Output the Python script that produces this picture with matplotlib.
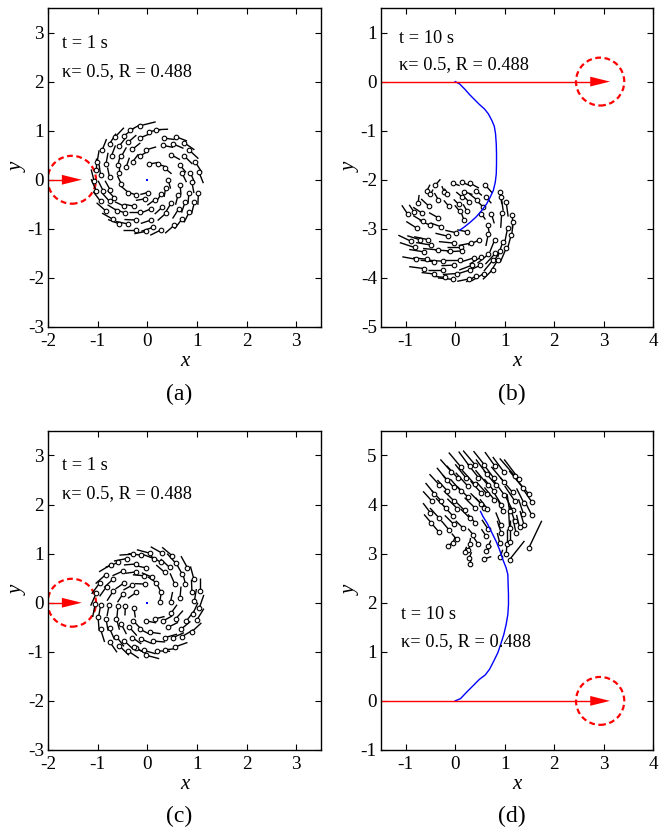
import numpy as np
import matplotlib.pyplot as plt
from matplotlib.collections import LineCollection
from matplotlib.patches import Circle

plt.rcParams['font.family'] = ['Liberation Serif', 'DejaVu Serif']
plt.rcParams['axes.unicode_minus'] = False

# particle rows: x, y, tail dx, tail dy
particles_a = [
    (-0.15, 1.10, 0.32, 0.08), (0.03, 0.98, 0.24, 0.04), (0.18, 1.02, 0.24, 0.01),
    (0.57, 0.88, 0.23, -0.09), (0.75, 0.75, 0.20, -0.14), (0.85, 0.60, 0.18, -0.17),
    (0.97, 0.36, 0.13, -0.21), (1.04, 0.16, 0.09, -0.23), (1.03, -0.26, -0.01, -0.25),
    (0.95, -0.46, -0.06, -0.24), (0.85, -0.65, -0.11, -0.22), (0.70, -0.80, -0.15, -0.20),
    (0.54, -0.93, -0.18, -0.16), (0.28, -1.02, -0.22, -0.11), (0.11, -0.97, -0.23, -0.08),
    (-0.02, -1.05, -0.24, -0.05), (-0.23, -1.02, -0.25, 0.00), (-0.39, -0.90, -0.24, 0.05),
    (-0.56, -0.90, -0.23, 0.09), (-0.70, -0.80, -0.21, 0.12), (-0.84, -0.63, -0.18, 0.16),
    (-0.94, -0.44, -0.15, 0.20), (-1.03, -0.22, -0.10, 0.23), (-1.07, -0.03, -0.06, 0.24),
    (-1.04, 0.20, 0.00, 0.25), (-1.01, 0.36, 0.04, 0.24), (-0.91, 0.60, 0.09, 0.23),
    (-0.76, 0.73, 0.13, 0.21), (-0.64, 0.88, 0.17, 0.18), (-0.46, 0.90, 0.19, 0.15),
    (-0.34, 1.01, 0.21, 0.12),
    (-0.15, 0.85, 0.21, 0.09), (0.33, 0.85, 0.22, -0.03), (0.52, 0.73, 0.21, -0.09),
    (0.75, 0.48, 0.16, -0.16), (0.87, 0.14, 0.09, -0.21), (0.90, -0.05, 0.04, -0.22),
    (0.84, -0.26, -0.02, -0.23), (0.76, -0.46, -0.07, -0.21), (0.63, -0.60, -0.12, -0.19),
    (0.38, -0.68, -0.17, -0.15), (0.08, -0.82, -0.21, -0.07), (-0.23, -0.82, -0.23, 0.01),
    (-0.44, -0.68, -0.21, 0.08), (-0.61, -0.63, -0.19, 0.12), (-0.76, -0.44, -0.15, 0.17),
    (-0.89, -0.22, -0.10, 0.20), (-0.94, 0.09, -0.03, 0.22), (-0.83, 0.33, 0.04, 0.22),
    (-0.72, 0.49, 0.08, 0.21), (-0.57, 0.68, 0.14, 0.18), (-0.39, 0.76, 0.17, 0.15),
    (-0.02, 0.61, 0.20, 0.06), (0.32, 0.70, 0.20, -0.04), (0.48, 0.51, 0.18, -0.10),
    (0.65, 0.31, 0.13, -0.16), (0.70, 0.14, 0.09, -0.19), (0.66, -0.10, 0.02, -0.20),
    (0.62, -0.31, -0.05, -0.20), (0.48, -0.48, -0.11, -0.18), (0.30, -0.56, -0.15, -0.14),
    (0.08, -0.59, -0.19, -0.08), (-0.15, -0.65, -0.21, 0.00), (-0.26, -0.54, -0.20, 0.04),
    (-0.46, -0.54, -0.19, 0.09), (-0.66, -0.37, -0.14, 0.15), (-0.75, -0.20, -0.10, 0.18),
    (-0.76, 0.05, -0.04, 0.20), (-0.59, 0.31, 0.05, 0.20), (-0.52, 0.48, 0.10, 0.18),
    (-0.30, 0.62, 0.16, 0.13),
    (0.03, 0.32, 0.18, 0.03), (0.21, 0.32, 0.18, -0.06), (0.35, 0.24, 0.14, -0.12),
    (0.42, 0.00, 0.05, -0.18), (0.37, -0.17, -0.03, -0.18), (0.28, -0.29, -0.10, -0.16),
    (0.15, -0.41, -0.15, -0.11), (-0.05, -0.39, -0.18, -0.03), (-0.22, -0.31, -0.18, 0.06),
    (-0.38, -0.26, -0.14, 0.12), (-0.52, -0.09, -0.08, 0.17), (-0.57, 0.14, 0.00, 0.19),
    (-0.42, 0.27, 0.06, 0.18), (-0.29, 0.37, 0.11, 0.15), (-0.15, 0.48, 0.16, 0.10),
    (0.01, -0.26, -0.15, -0.04),
]

particles_c = [
    (0.05, 1.01, -0.26, 0.07), (-0.12, 0.97, -0.26, 0.03), (-0.29, 0.99, -0.27, -0.02),
    (-0.41, 0.90, -0.26, -0.05), (-0.59, 0.82, -0.25, -0.10), (-0.74, 0.77, -0.23, -0.14),
    (-0.84, 0.57, -0.20, -0.18), (-0.96, 0.40, -0.16, -0.22), (-1.03, 0.19, -0.11, -0.25),
    (-1.05, -0.03, -0.05, -0.26), (-0.99, -0.30, 0.02, -0.27), (-0.94, -0.54, 0.08, -0.26),
    (-0.76, -0.79, 0.15, -0.22), (-0.56, -0.88, 0.19, -0.19), (-0.39, -0.98, 0.22, -0.15),
    (-0.23, -0.93, 0.24, -0.12), (-0.02, -1.07, 0.26, -0.07), (0.19, -0.98, 0.27, -0.01),
    (0.35, -0.96, 0.27, 0.03), (0.56, -0.90, 0.25, 0.09), (0.70, -0.69, 0.23, 0.14),
    (0.90, -0.59, 0.19, 0.18), (1.00, -0.35, 0.14, 0.23), (1.05, -0.10, 0.09, 0.26),
    (1.07, 0.24, 0.00, 0.27), (0.94, 0.48, -0.07, 0.26), (0.81, 0.71, -0.13, 0.24),
    (0.58, 0.80, -0.18, 0.20), (0.50, 0.96, -0.20, 0.17), (0.30, 1.01, -0.23, 0.13),
    (0.13, 0.90, -0.23, 0.09), (-0.02, 0.71, -0.24, 0.05), (-0.22, 0.79, -0.25, -0.02),
    (-0.48, 0.65, -0.22, -0.10), (-0.69, 0.48, -0.18, -0.17), (-0.82, 0.33, -0.14, -0.20),
    (-0.94, -0.05, -0.04, -0.24), (-0.77, -0.05, -0.04, -0.22), (-0.83, -0.33, 0.04, -0.24),
    (-0.76, -0.52, 0.10, -0.23), (-0.62, -0.69, 0.15, -0.20), (-0.46, -0.78, 0.18, -0.17),
    (-0.26, -0.91, 0.22, -0.11), (-0.07, -0.97, 0.24, -0.07), (0.11, -0.78, 0.25, -0.02),
    (0.36, -0.71, 0.24, 0.07), (0.52, -0.71, 0.22, 0.10), (0.68, -0.54, 0.19, 0.16),
    (0.79, -0.37, 0.15, 0.20), (0.92, -0.22, 0.10, 0.22), (0.95, 0.04, 0.04, 0.24),
    (0.90, 0.22, -0.01, 0.25), (0.77, 0.38, -0.06, 0.24), (0.70, 0.59, -0.12, 0.22),
    (0.45, 0.72, -0.18, 0.17), (0.28, 0.82, -0.21, 0.13),
    (0.10, 0.52, -0.21, 0.09), (-0.07, 0.55, -0.22, 0.02), (-0.22, 0.63, -0.22, -0.03),
    (-0.46, 0.41, -0.18, -0.13), (-0.69, 0.23, -0.12, -0.19), (-0.59, -0.07, -0.02, -0.22),
    (-0.62, -0.33, 0.06, -0.22), (-0.52, -0.44, 0.10, -0.20), (-0.36, -0.50, 0.15, -0.17),
    (-0.30, -0.71, 0.18, -0.13), (-0.12, -0.74, 0.21, -0.09), (0.05, -0.60, 0.22, -0.03),
    (0.42, -0.50, 0.20, 0.10), (0.57, -0.33, 0.15, 0.17), (0.66, 0.10, 0.02, 0.23),
    (0.55, 0.39, -0.09, 0.21), (0.35, 0.62, -0.17, 0.15),
    (0.18, 0.41, -0.17, 0.12), (-0.05, 0.38, -0.20, 0.01), (-0.30, 0.36, -0.18, -0.10),
    (-0.49, 0.18, -0.11, -0.17), (-0.44, -0.06, -0.01, -0.20), (-0.28, -0.37, 0.14, -0.15),
    (-0.15, -0.54, 0.18, -0.09), (-0.02, -0.37, 0.20, -0.04), (0.15, -0.33, 0.20, 0.05),
    (0.32, -0.37, 0.18, 0.10), (0.48, -0.21, 0.12, 0.17), (0.47, 0.02, 0.04, 0.20),
    (0.25, 0.01, 0.03, 0.18), (0.28, 0.21, -0.09, 0.18), (-0.27, -0.10, 0.03, -0.20),
    (-0.22, 0.21, -0.17, -0.12),
]

particles_b = [
    (-0.05, -2.07, 0.14, -0.05), (0.14, -2.05, 0.18, -0.08), (0.30, -2.07, 0.18, -0.10),
    (0.61, -2.11, 0.14, -0.16), (0.91, -2.24, 0.03, -0.25), (0.93, -2.35, 0.04, -0.28),
    (1.03, -2.45, 0.04, -0.30), (0.94, -2.68, -0.02, -0.30), (1.15, -2.71, 0.00, -0.28),
    (1.17, -2.86, -0.03, -0.30), (1.06, -2.98, -0.06, -0.30), (1.13, -3.13, -0.08, -0.30),
    (1.03, -3.40, -0.12, -0.28), (0.91, -3.45, -0.15, -0.25), (0.81, -3.50, -0.20, -0.22),
    (0.67, -3.52, -0.22, -0.18), (0.53, -3.57, -0.24, -0.15), (0.76, -3.64, -0.18, -0.22),
    (0.51, -3.74, -0.25, -0.12), (0.34, -3.74, -0.26, -0.10), (0.29, -3.84, -0.25, -0.08),
    (0.42, -3.96, -0.20, -0.12), (0.58, -3.91, -0.25, -0.15), (0.76, -3.83, -0.20, -0.20),
    (0.86, -3.64, -0.15, -0.24), (0.28, -4.02, -0.24, -0.05), (0.03, -3.91, -0.28, -0.02),
    (-0.05, -4.03, -0.30, 0.03), (-0.21, -3.99, -0.20, 0.02), (-0.43, -3.92, -0.25, 0.03),
    (-0.63, -3.81, -0.30, 0.04), (-0.79, -3.62, -0.28, 0.05), (-0.82, -3.38, -0.30, 0.10),
    (-0.90, -3.25, -0.25, 0.12), (-0.77, -2.99, -0.22, 0.14), (-0.96, -2.70, -0.12, 0.18),
    (-0.83, -2.66, -0.10, 0.15), (-0.75, -2.47, 0.02, 0.16), (-0.65, -2.85, -0.20, 0.12),
    (-0.67, -2.68, -0.18, 0.12), (-0.50, -2.93, -0.22, 0.10), (-0.54, -2.53, -0.15, 0.14),
    (-0.57, -2.22, 0.06, 0.12), (-0.50, -2.30, 0.05, 0.10), (-0.40, -2.11, 0.10, 0.12),
    (-0.34, -2.41, -0.08, 0.14), (-0.35, -2.77, -0.18, 0.10), (-0.28, -2.96, -0.22, 0.08),
    (-0.15, -3.15, -0.25, 0.06), (-0.22, -2.25, -0.05, 0.12), (-0.16, -2.28, -0.06, 0.10),
    (-0.13, -2.54, -0.10, 0.12), (0.02, -3.08, -0.22, 0.05), (0.24, -3.06, -0.20, 0.04),
    (0.09, -2.64, -0.10, 0.12), (0.07, -2.50, -0.10, 0.10), (0.24, -2.64, -0.08, 0.14),
    (0.18, -2.83, -0.05, 0.14), (0.14, -2.35, -0.12, 0.10), (0.28, -2.45, -0.12, 0.12),
    (0.44, -2.41, -0.15, 0.12), (0.56, -2.55, -0.12, 0.12), (0.53, -2.69, 0.08, -0.12),
    (0.73, -2.69, 0.06, -0.20), (0.66, -2.93, 0.04, -0.22), (0.67, -3.10, -0.05, -0.25),
    (0.80, -3.22, -0.10, -0.25), (0.48, -3.23, -0.22, -0.10), (0.32, -3.29, -0.25, -0.05),
    (0.12, -3.36, -0.28, 0.00), (0.13, -3.45, -0.30, -0.02), (-0.11, -3.45, -0.30, 0.02),
    (-0.03, -3.29, -0.30, 0.03), (-0.35, -3.43, -0.30, 0.03), (-0.49, -3.33, -0.30, 0.05),
    (-0.55, -3.22, -0.28, 0.06), (-0.72, -3.22, -0.25, 0.08), (-0.63, -3.47, -0.30, 0.05),
    (-0.57, -3.62, -0.28, 0.03), (-0.42, -3.67, -0.28, 0.03), (-0.25, -3.66, -0.28, 0.02),
    (0.09, -3.64, -0.30, 0.00), (-0.03, -3.74, -0.25, -0.01), (-0.25, -3.83, -0.30, 0.00),
    (0.38, -3.59, -0.25, -0.08), (0.96, -3.27, -0.10, -0.30), (0.63, -2.36, 0.10, -0.12),
    (0.42, -2.22, 0.12, -0.10), (0.17, -2.24, 0.18, -0.06),
]

particles_d = [
    (0.12, 4.76, -0.25, 0.30), (0.29, 4.78, -0.22, 0.30), (0.41, 4.80, -0.25, 0.30),
    (0.59, 4.81, -0.22, 0.28), (0.80, 4.79, -0.20, 0.28), (0.98, 4.67, -0.22, 0.30),
    (1.20, 4.59, -0.30, 0.35), (1.29, 4.52, -0.30, 0.40), (1.37, 4.34, -0.28, 0.35),
    (1.49, 4.21, -0.25, 0.30), (1.55, 4.05, -0.20, 0.30), (1.55, 3.78, -0.15, 0.30),
    (1.39, 4.03, -0.15, 0.30), (1.38, 3.81, -0.10, 0.30), (1.39, 3.59, -0.08, 0.28),
    (1.30, 3.54, -0.06, 0.25), (1.23, 3.42, -0.06, 0.28), (1.20, 3.67, -0.10, 0.30),
    (1.16, 3.88, -0.15, 0.30), (1.20, 4.08, -0.20, 0.30), (1.16, 4.25, -0.25, 0.30),
    (0.99, 4.20, -0.22, 0.30), (0.98, 4.47, -0.25, 0.30), (0.83, 4.39, -0.25, 0.30),
    (0.78, 4.54, -0.22, 0.30), (0.66, 4.40, -0.25, 0.30), (0.64, 4.62, -0.22, 0.30),
    (0.47, 4.55, -0.22, 0.28), (0.39, 4.42, -0.25, 0.28), (0.26, 4.37, -0.25, 0.28),
    (0.22, 4.54, -0.22, 0.28), (0.05, 4.54, -0.22, 0.25), (-0.08, 4.67, -0.22, 0.25),
    (-0.17, 4.50, -0.20, 0.25), (-0.32, 4.40, -0.20, 0.22), (-0.42, 4.22, -0.18, 0.22),
    (-0.47, 4.07, -0.18, 0.20), (-0.50, 3.83, -0.15, 0.20), (-0.48, 3.62, -0.15, 0.18),
    (-0.33, 3.44, -0.15, 0.18), (-0.33, 3.73, -0.18, 0.20), (-0.28, 4.07, -0.20, 0.22),
    (-0.19, 3.93, -0.20, 0.20), (-0.16, 4.28, -0.20, 0.22), (-0.03, 4.35, -0.22, 0.25),
    (-0.03, 4.08, -0.20, 0.20), (-0.05, 3.77, -0.18, 0.20), (-0.13, 3.49, -0.15, 0.18),
    (-0.03, 3.60, -0.18, 0.18), (0.04, 3.92, -0.20, 0.20), (0.12, 4.27, -0.22, 0.25),
    (0.19, 3.88, -0.20, 0.20), (0.26, 4.15, -0.22, 0.22), (0.29, 3.73, -0.18, 0.18),
    (0.16, 3.52, -0.15, 0.15), (0.03, 3.29, -0.10, 0.12), (-0.05, 3.22, 0.05, 0.12),
    (-0.15, 3.15, 0.10, 0.08), (0.36, 3.39, -0.10, 0.12), (0.41, 3.62, -0.15, 0.18),
    (0.39, 3.94, -0.20, 0.20), (0.53, 4.01, -0.22, 0.22), (0.59, 3.94, -0.18, 0.20),
    (0.65, 3.91, -0.15, 0.20), (0.53, 4.23, -0.22, 0.25), (0.65, 4.21, -0.22, 0.25),
    (0.79, 4.10, -0.20, 0.25), (0.79, 4.27, -0.20, 0.25), (0.93, 4.00, -0.15, 0.25),
    (0.96, 3.86, -0.10, 0.25), (0.92, 3.59, -0.10, 0.25), (0.93, 3.42, -0.08, 0.25),
    (0.66, 3.51, -0.12, 0.18), (0.63, 3.35, -0.10, 0.15), (0.46, 3.20, -0.08, 0.12),
    (0.67, 3.15, 0.05, 0.12), (0.63, 3.05, 0.10, 0.10), (0.90, 3.22, -0.05, 0.20),
    (1.05, 3.20, 0.00, 0.30), (1.10, 3.23, 0.00, 0.45), (1.03, 2.99, 0.02, 0.25),
    (0.91, 2.93, 0.05, 0.15), (1.10, 2.88, 0.30, 0.38), (1.49, 3.12, 0.26, 0.55),
    (0.58, 2.89, 0.15, 0.05), (0.26, 3.08, 0.06, 0.12), (0.19, 3.04, 0.04, 0.10),
    (0.28, 2.91, 0.05, 0.12), (0.29, 2.79, 0.04, 0.10), (0.29, 3.20, 0.02, 0.12),
    (1.10, 3.52, -0.02, 0.35), (1.10, 3.86, -0.05, 0.35),
]

# vortex centre trajectories (t = 10 s)
path_b_x = [0.0, 0.088, 0.189, 0.29, 0.39, 0.49, 0.59, 0.67, 0.74, 0.79, 0.815, 0.83,
            0.835, 0.835, 0.83, 0.81, 0.77, 0.70, 0.63, 0.525, 0.42, 0.31, 0.20, 0.09]
path_b_y = [0.0, -0.047, -0.149, -0.264, -0.366, -0.467, -0.556, -0.657, -0.79, -0.91,
            -1.06, -1.27, -1.47, -1.67, -1.88, -2.05, -2.22, -2.37, -2.50, -2.64, -2.76,
            -2.86, -2.95, -3.03]
path_d_x = [0.0, 0.108, 0.222, 0.357, 0.49, 0.606, 0.694, 0.78, 0.862, 0.93, 0.983, 1.03,
            1.064, 1.077, 1.077, 1.07, 1.064, 1.03, 0.963, 0.896, 0.828, 0.727, 0.646,
            0.559, 0.512]
path_d_y = [0.0, 0.047, 0.169, 0.305, 0.44, 0.528, 0.644, 0.813, 0.982, 1.186, 1.355,
            1.558, 1.76, 1.965, 2.168, 2.37, 2.575, 2.71, 2.88, 3.08, 3.25, 3.455, 3.62,
            3.76, 3.86]

target_left_x = -1.52
target_right_x = 2.93
target_r = 0.488
head_len = 0.4
head_w = 0.2

fig = plt.figure(figsize=(6.7, 8.31), dpi=100)
ax_a = fig.add_axes([0.0716, 0.6065, 0.4075, 0.3839])
ax_b = fig.add_axes([0.5687, 0.6065, 0.406, 0.3839])
ax_c = fig.add_axes([0.0716, 0.0975, 0.4075, 0.3839])
ax_d = fig.add_axes([0.5687, 0.0975, 0.406, 0.3839])


def draw_panel(ax, particles, xlim, ylim, target_x, time_txt, txt_x, txt_y, path=None):
    p = np.array(particles)
    segs = [[(x, y), (x + dx, y + dy)] for x, y, dx, dy in p]
    ax.add_collection(LineCollection(segs, colors='k', linewidths=1.0))
    ax.plot(p[:, 0], p[:, 1], 'o', ms=3.3, mfc='white', mec='k', mew=0.8, ls='none')

    if path is None:
        ax.plot(0, 0, 's', ms=2.0, color='blue', mew=0)
    else:
        ax.plot(path[0], path[1], color='blue', lw=1.0)

    # incoming target: red arrow from the left edge plus dashed circle
    ax.plot([xlim[0], target_x], [0, 0], color='red', lw=1.0)
    ax.arrow(target_x - head_len / 2, 0, head_len, 0, width=0.0, head_width=head_w,
             head_length=head_len, length_includes_head=True, fc='red', ec='red', lw=0)
    ax.add_patch(Circle((target_x, 0), target_r, fill=False, ec='red', lw=1.6,
                        ls=(0, (2.6, 1.6))))

    ax.text(txt_x, txt_y[0], time_txt, fontsize=13.2, va='center')
    ax.text(txt_x, txt_y[1], 'κ= 0.5, R = 0.488', fontsize=13.2, va='center')

    ax.set_xlim(xlim)
    ax.set_ylim(ylim)
    ax.set_xticks(np.arange(np.ceil(xlim[0]), xlim[1] + 0.01, 1))
    ax.set_yticks(np.arange(np.ceil(ylim[0]), ylim[1] + 0.01, 1))
    ax.tick_params(direction='in', top=True, right=True, length=4, width=0.8,
                   labelsize=13.8)
    ax.tick_params(axis='x', pad=4)
    ax.tick_params(axis='y', pad=3)
    for s in ax.spines.values():
        s.set_linewidth(1.0)
    ax.text(0.5, -0.108, 'x', transform=ax.transAxes, ha='center', va='center',
            fontsize=15, style='italic')
    ax.text(-0.11, 0.5, 'y', transform=ax.transAxes, ha='center', va='center',
            fontsize=15, style='italic', rotation=90)


draw_panel(ax_a, particles_a, (-2, 3.5), (-3, 3.5), target_left_x, 't = 1 s',
           -1.72, (2.78, 2.20))
draw_panel(ax_b, particles_b, (-1.5, 4), (-5, 1.5), target_right_x, 't = 10 s',
           -1.14, (0.88, 0.35), path=(path_b_x, path_b_y))
draw_panel(ax_c, particles_c, (-2, 3.5), (-3, 3.5), target_left_x, 't = 1 s',
           -1.72, (2.80, 2.23))
draw_panel(ax_d, particles_d, (-1.5, 4), (-1, 5.5), target_right_x, 't = 10 s',
           -1.09, (1.76, 1.20), path=(path_d_x, path_d_y))

for lbl, x, y in [('(a)', 179, 394), ('(b)', 512, 394), ('(c)', 179, 816), ('(d)', 512, 816)]:
    fig.text(x / 670, 1 - y / 831, lbl, ha='center', va='center', fontsize=17)

fig.savefig('out.png', dpi=100)
